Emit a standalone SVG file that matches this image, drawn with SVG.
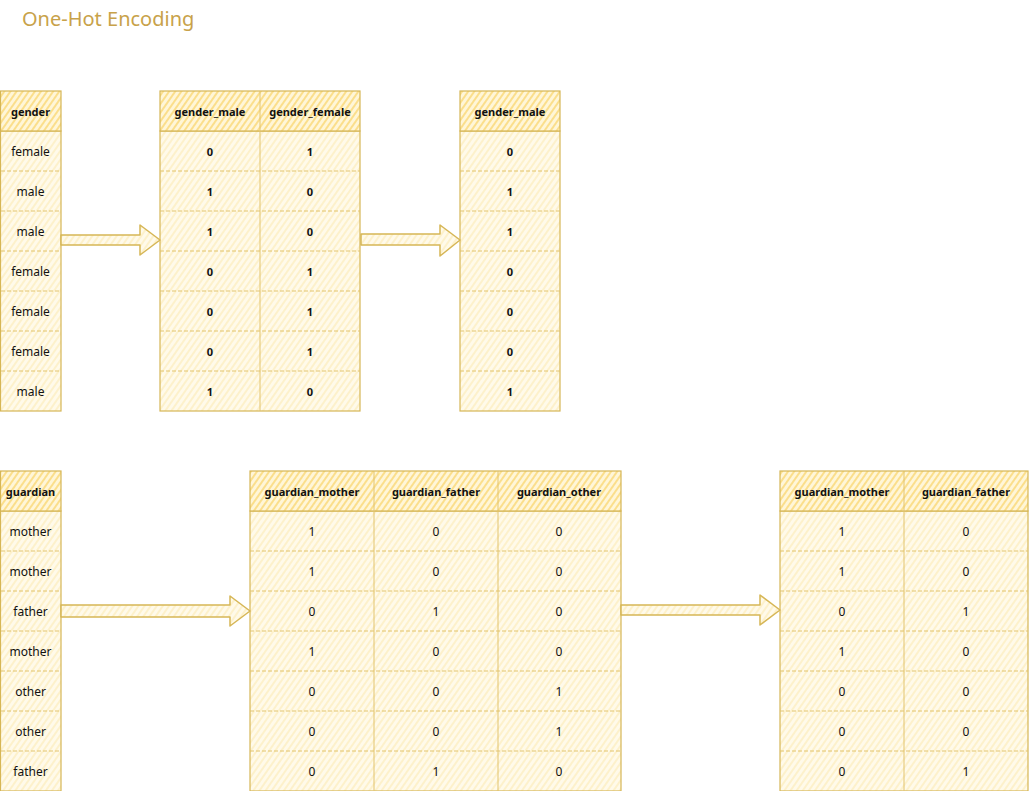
<svg xmlns="http://www.w3.org/2000/svg" width="1029" height="791" viewBox="0 0 1029 791">
<defs>
<pattern id="hh" patternUnits="userSpaceOnUse" width="5" height="5" patternTransform="rotate(35)">
<rect width="5" height="5" fill="#fff6d8"/>
<line x1="1" y1="0" x2="1" y2="5" stroke="#fbd978" stroke-width="1.6"/>
</pattern>
<pattern id="hb" patternUnits="userSpaceOnUse" width="5" height="5" patternTransform="rotate(35)">
<rect width="5" height="5" fill="#fffaea"/>
<line x1="1" y1="0" x2="1" y2="5" stroke="#fdefc3" stroke-width="1.6"/>
</pattern>
<style>
text{font-family:"Comic Sans MS","Noto Sans","DejaVu Sans",sans-serif;text-anchor:middle;dominant-baseline:central;fill:#111}
.h{font-size:11px;font-weight:bold}
.b{font-size:12px}
.bb{font-size:11px;font-weight:bold}
.title{font-size:20px;fill:#c8a24a;text-anchor:start}
.hdr{fill:url(#hh);stroke:#d6b656;stroke-width:1.2}
.body{fill:url(#hb);stroke:#d6b656;stroke-width:1.2}
.sep{stroke:#e2c46e;stroke-width:1;stroke-dasharray:4 2;fill:none}
.vsep{stroke:#e2c46e;stroke-width:1;fill:none}
.arr{fill:url(#hb);stroke:#d6b656;stroke-width:1.5;stroke-linejoin:round}
</style>
</defs>
<rect width="1029" height="791" fill="#ffffff"/>
<text class="title" x="22" y="18">One-Hot Encoding</text>

<g id="t-gender">
<rect class="body" x="0.5" y="131" width="60.5" height="280"/>
<rect class="hdr" x="0.5" y="91" width="60.5" height="40"/>
<path class="sep" d="M1 171H61M1 211H61M1 251H61M1 291H61M1 331H61M1 371H61"/>
<text class="h" x="30.5" y="111">gender</text>
<text class="b" x="30.5" y="151">female</text>
<text class="b" x="30.5" y="191">male</text>
<text class="b" x="30.5" y="231">male</text>
<text class="b" x="30.5" y="271">female</text>
<text class="b" x="30.5" y="311">female</text>
<text class="b" x="30.5" y="351">female</text>
<text class="b" x="30.5" y="391">male</text>
</g>

<g id="t-gender-onehot">
<rect class="body" x="160" y="131" width="200" height="280"/>
<rect class="hdr" x="160" y="91" width="200" height="40"/>
<path class="sep" d="M160 171H360M160 211H360M160 251H360M160 291H360M160 331H360M160 371H360"/>
<path class="vsep" d="M260 91V411"/>
<text class="h" x="210" y="111">gender_male</text>
<text class="h" x="310" y="111">gender_female</text>
<text class="bb" x="210" y="151">0</text><text class="bb" x="310" y="151">1</text>
<text class="bb" x="210" y="191">1</text><text class="bb" x="310" y="191">0</text>
<text class="bb" x="210" y="231">1</text><text class="bb" x="310" y="231">0</text>
<text class="bb" x="210" y="271">0</text><text class="bb" x="310" y="271">1</text>
<text class="bb" x="210" y="311">0</text><text class="bb" x="310" y="311">1</text>
<text class="bb" x="210" y="351">0</text><text class="bb" x="310" y="351">1</text>
<text class="bb" x="210" y="391">1</text><text class="bb" x="310" y="391">0</text>
</g>

<g id="t-gender-final">
<rect class="body" x="460" y="131" width="100" height="280"/>
<rect class="hdr" x="460" y="91" width="100" height="40"/>
<path class="sep" d="M460 171H560M460 211H560M460 251H560M460 291H560M460 331H560M460 371H560"/>
<text class="h" x="510" y="111">gender_male</text>
<text class="bb" x="510" y="151">0</text>
<text class="bb" x="510" y="191">1</text>
<text class="bb" x="510" y="231">1</text>
<text class="bb" x="510" y="271">0</text>
<text class="bb" x="510" y="311">0</text>
<text class="bb" x="510" y="351">0</text>
<text class="bb" x="510" y="391">1</text>
</g>

<g id="t-guardian">
<rect class="body" x="0.5" y="511" width="60.5" height="280"/>
<rect class="hdr" x="0.5" y="471" width="60.5" height="40"/>
<path class="sep" d="M1 551H61M1 591H61M1 631H61M1 671H61M1 711H61M1 751H61"/>
<text class="h" x="30.5" y="491">guardian</text>
<text class="b" x="30.5" y="531">mother</text>
<text class="b" x="30.5" y="571">mother</text>
<text class="b" x="30.5" y="611">father</text>
<text class="b" x="30.5" y="651">mother</text>
<text class="b" x="30.5" y="691">other</text>
<text class="b" x="30.5" y="731">other</text>
<text class="b" x="30.5" y="771">father</text>
</g>

<g id="t-guardian-onehot">
<rect class="body" x="250" y="511" width="371" height="280"/>
<rect class="hdr" x="250" y="471" width="371" height="40"/>
<path class="sep" d="M250 551H621M250 591H621M250 631H621M250 671H621M250 711H621M250 751H621"/>
<path class="vsep" d="M374 471V791M498 471V791"/>
<text class="h" x="312" y="491">guardian_mother</text>
<text class="h" x="436" y="491">guardian_father</text>
<text class="h" x="559" y="491">guardian_other</text>
<text class="b" x="312" y="531">1</text><text class="b" x="436" y="531">0</text><text class="b" x="559" y="531">0</text>
<text class="b" x="312" y="571">1</text><text class="b" x="436" y="571">0</text><text class="b" x="559" y="571">0</text>
<text class="b" x="312" y="611">0</text><text class="b" x="436" y="611">1</text><text class="b" x="559" y="611">0</text>
<text class="b" x="312" y="651">1</text><text class="b" x="436" y="651">0</text><text class="b" x="559" y="651">0</text>
<text class="b" x="312" y="691">0</text><text class="b" x="436" y="691">0</text><text class="b" x="559" y="691">1</text>
<text class="b" x="312" y="731">0</text><text class="b" x="436" y="731">0</text><text class="b" x="559" y="731">1</text>
<text class="b" x="312" y="771">0</text><text class="b" x="436" y="771">1</text><text class="b" x="559" y="771">0</text>
</g>

<g id="t-guardian-final">
<rect class="body" x="780" y="511" width="248" height="280"/>
<rect class="hdr" x="780" y="471" width="248" height="40"/>
<path class="sep" d="M780 551H1028M780 591H1028M780 631H1028M780 671H1028M780 711H1028M780 751H1028"/>
<path class="vsep" d="M904 471V791"/>
<text class="h" x="842" y="491">guardian_mother</text>
<text class="h" x="966" y="491">guardian_father</text>
<text class="b" x="842" y="531">1</text><text class="b" x="966" y="531">0</text>
<text class="b" x="842" y="571">1</text><text class="b" x="966" y="571">0</text>
<text class="b" x="842" y="611">0</text><text class="b" x="966" y="611">1</text>
<text class="b" x="842" y="651">1</text><text class="b" x="966" y="651">0</text>
<text class="b" x="842" y="691">0</text><text class="b" x="966" y="691">0</text>
<text class="b" x="842" y="731">0</text><text class="b" x="966" y="731">0</text>
<text class="b" x="842" y="771">0</text><text class="b" x="966" y="771">1</text>
</g>

<g id="connectors">
<path class="arr" d="M61 235H140V225L160 240L140 255V245H61Z"/>
<path class="arr" d="M361 234H440V225L460 240L440 256V245H361Z"/>
<path class="arr" d="M61 605H230V596L250 611L230 626V617H61Z"/>
<path class="arr" d="M621 605H760V595L780 610L760 625V615H621Z"/>
</g>
</svg>
